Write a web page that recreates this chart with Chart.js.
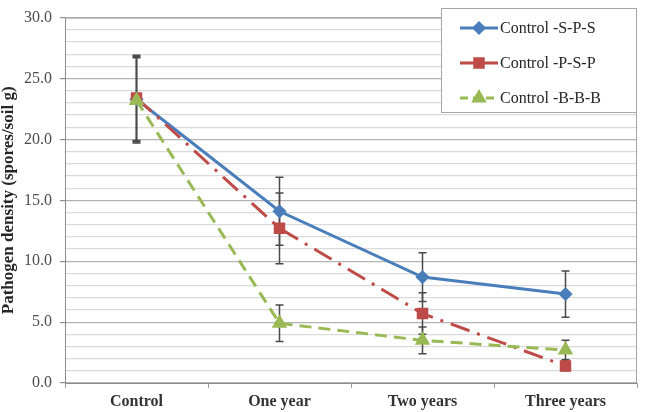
<!DOCTYPE html>
<html>
<head>
<meta charset="utf-8">
<script src="https://cdn.jsdelivr.net/npm/chart.js@4.4.1/dist/chart.umd.min.js"></script>
<style>
  html, body { margin: 0; padding: 0; background: #fff; }
  #chart { display: block; }
</style>
</head>
<body>
<canvas id="chart" width="647" height="412"></canvas>
<script>
// values
const labels = ['Control', 'One year', 'Two years', 'Three years'];
const spsValues = [23.3, 14.1, 8.7, 7.3];
const spsErrors = [3.5, 2.8, 2.0, 1.9];
const pspValues = [23.4, 12.7, 5.7, 1.4];
const pspErrors = [3.5, 2.9, 1.7, 0.4];
const bbbValues = [23.2, 4.9, 3.5, 2.7];
const bbbErrors = [3.5, 1.5, 1.1, 0.8];

const SERIF = '"Liberation Serif", "Times New Roman", serif';

// error bars under the lines, from each dataset's errors array
const errorBars = {
  id: 'errorBars',
  beforeDatasetsDraw(chart) {
    const { ctx, scales: { x, y } } = chart;
    ctx.save();
    ctx.strokeStyle = '#4a4a4a';
    ctx.lineWidth = 1.5;
    chart.data.datasets.forEach((ds) => {
      ds.data.forEach((v, i) => {
        const e = ds.errors[i];
        const px = x.getPixelForValue(i);
        const top = y.getPixelForValue(v + e);
        const bot = y.getPixelForValue(v - e);
        ctx.beginPath();
        ctx.moveTo(px, top); ctx.lineTo(px, bot);
        ctx.moveTo(px - 4, top); ctx.lineTo(px + 4, top);
        ctx.moveTo(px - 4, bot); ctx.lineTo(px + 4, bot);
        ctx.stroke();
      });
    });
    ctx.restore();
  },
};

// plot border + boxed legend in the top right corner
const legendDash = [[], [], [8, 5]];
const frameAndLegend = {
  id: 'frameAndLegend',
  afterDraw(chart) {
    const { ctx, chartArea: a } = chart;
    ctx.save();
    ctx.strokeStyle = '#a6a6a6';
    ctx.lineWidth = 1;
    ctx.beginPath();
    ctx.moveTo(a.left, a.top + 0.5); ctx.lineTo(a.right - 0.5, a.top + 0.5); ctx.lineTo(a.right - 0.5, a.bottom);
    ctx.stroke();

    const bx = 441, by = 8, bw = 195, bh = 104;
    ctx.fillStyle = '#fff';
    ctx.fillRect(bx, by, bw, bh);
    ctx.strokeStyle = '#a6a6a6';
    ctx.strokeRect(bx + 0.5, by + 0.5, bw, bh);

    chart.data.datasets.forEach((ds, i) => {
      const cy = 28 + i * 35;
      ctx.strokeStyle = ds.borderColor;
      ctx.lineWidth = ds.borderWidth;
      ctx.setLineDash(legendDash[i]);
      ctx.beginPath();
      ctx.moveTo(460, cy); ctx.lineTo(498, cy);
      ctx.stroke();
      ctx.setLineDash([]);
      Chart.helpers.drawPoint(ctx, {
        pointStyle: ds.pointStyle, radius: ds.pointRadius, borderWidth: 1, rotation: 0,
      }, 479, cy);
      ctx.fillStyle = ds.pointBackgroundColor;
      ctx.fill();
      ctx.fillStyle = '#262626';
      ctx.font = '16px ' + SERIF;
      ctx.textBaseline = 'middle';
      ctx.fillText(ds.label, 500, cy + 1);
    });
    ctx.restore();
  },
};

new Chart(document.getElementById('chart'), {
  type: 'line',
  data: {
    labels,
    datasets: [
      {
        label: 'Control -S-P-S', data: spsValues, errors: spsErrors,
        borderColor: '#4a7ebb', backgroundColor: '#4a7ebb', pointBackgroundColor: '#4a7ebb', pointBorderColor: '#4a7ebb',
        borderWidth: 3, pointStyle: 'rectRot', pointRadius: 5, order: 2,
      },
      {
        label: 'Control -P-S-P', data: pspValues, errors: pspErrors,
        borderColor: '#be4b48', backgroundColor: '#be4b48', pointBackgroundColor: '#be4b48', pointBorderColor: '#be4b48',
        borderWidth: 3, borderDash: [20, 8, 3, 8], pointStyle: 'rect', pointRadius: 6, order: 1,
      },
      {
        label: 'Control -B-B-B', data: bbbValues, errors: bbbErrors,
        borderColor: '#98b954', backgroundColor: '#98b954', pointBackgroundColor: '#98b954', pointBorderColor: '#98b954',
        borderWidth: 3, borderDash: [12, 7], pointStyle: 'triangle', pointRadius: 6, order: 0,
      },
    ],
  },
  options: {
    responsive: false,
    animation: false,
    devicePixelRatio: 1,
    layout: { padding: { top: 7, right: 10, left: 0, bottom: 0 } },
    plugins: { legend: { display: false }, tooltip: { enabled: false } },
    elements: { line: { tension: 0 } },
    scales: {
      x: {
        offset: true,
        afterFit: (s) => { s.height = 29; },
        grid: { drawOnChartArea: false, offset: true, tickLength: 5, tickColor: '#999' },
        border: { color: '#8c8c8c' },
        ticks: { color: '#333', padding: 4, font: { family: SERIF, size: 16, weight: 'bold' } },
      },
      y: {
        min: 0, max: 30,
        afterFit: (s) => { s.width = 65; },
        title: {
          display: true, text: 'Pathogen density (spores/soil g)', color: '#262626',
          padding: 0, font: { family: SERIF, size: 17, weight: 'bold', lineHeight: 1 },
        },
        border: { color: '#8c8c8c' },
        grid: {
          color: (c) => (c.tick && c.tick.value % 5 === 0 ? '#b3b3b3' : '#dadada'),
          tickColor: (c) => (c.tick && c.tick.value % 5 === 0 ? '#8c8c8c' : 'rgba(0,0,0,0)'),
          tickLength: 5,
          lineWidth: 1.2,
        },
        ticks: {
          stepSize: 1, autoSkip: false, padding: 8, color: '#4d4d4d',
          font: { family: SERIF, size: 16 },
          callback: (v) => (v % 5 === 0 ? v.toFixed(1) : ''),
        },
      },
    },
  },
  plugins: [errorBars, frameAndLegend],
});
</script>
</body>
</html>
